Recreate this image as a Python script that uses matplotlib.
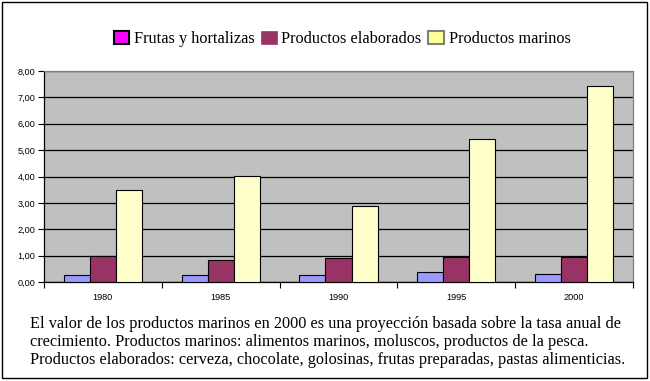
import matplotlib
matplotlib.use("Agg")
import matplotlib.pyplot as plt
from matplotlib.patches import Patch, Rectangle
import numpy as np

years = ["1980", "1985", "1990", "1995", "2000"]
frutas = [0.25, 0.25, 0.25, 0.38, 0.31]
elaborados = [0.98, 0.83, 0.90, 0.95, 0.95]
marinos = [3.48, 4.03, 2.90, 5.41, 7.45]
series_names = ["Frutas y hortalizas", "Productos elaborados", "Productos marinos"]
ytick_vals = [0, 1, 2, 3, 4, 5, 6, 7, 8]
ytick_labels = ["0,00", "1,00", "2,00", "3,00", "4,00", "5,00", "6,00", "7,00", "8,00"]
note_lines = [
    "El valor de los productos marinos en 2000 es una proyección basada sobre la tasa anual de",
    "crecimiento. Productos marinos: alimentos marinos, moluscos, productos de la pesca.",
    "Productos elaborados: cerveza, chocolate, golosinas, frutas preparadas, pastas alimenticias.",
]

W, H = 650, 381
fig = plt.figure(figsize=(6.5, 3.81), dpi=100)
fig.patch.set_facecolor("white")

ax = fig.add_axes([44 / W, 1 - 282 / H, 589 / W, 211 / H])
ax.set_facecolor("#C0C0C0")

x = np.arange(len(years))
bw = 0.221
colors = ["#9999FF", "#993366", "#FFFFCC"]
for i, vals in enumerate([frutas, elaborados, marinos]):
    ax.bar(x + (i - 1) * bw, vals, width=bw, color=colors[i],
           edgecolor="black", linewidth=0.8, zorder=3)

ax.set_xlim(-0.5, len(years) - 0.5)
ax.set_ylim(0, 8)
ax.set_yticks(ytick_vals)
ax.set_yticklabels(ytick_labels, fontfamily="Liberation Sans", fontsize=6.6)
ax.yaxis.grid(True, color="black", linewidth=0.9, zorder=1)
ax.set_axisbelow(True)

ax.set_xticks(x)
ax.set_xticklabels(years, fontfamily="Liberation Sans", fontsize=6.6)
ax.tick_params(axis="x", which="major", length=0, pad=8)
ax.set_xticks(np.arange(-0.5, len(years), 1.0), minor=True)
ax.tick_params(axis="x", which="minor", length=4, width=0.8, direction="out")
ax.tick_params(axis="y", length=4, width=0.8, direction="out", pad=2)

for s in ["left", "bottom"]:
    ax.spines[s].set_color("black")
    ax.spines[s].set_linewidth(0.9)
for s in ["top", "right"]:
    ax.spines[s].set_color("#808080")
    ax.spines[s].set_linewidth(0.9)

handles = [
    Patch(facecolor="#FF00FF", edgecolor="black", linewidth=1.5),
    Patch(facecolor="#993366", edgecolor="#993366", linewidth=0.5),
    Patch(facecolor="#FFFF99", edgecolor="#808080", linewidth=1.5),
]
fig.legend(handles, series_names, loc="center", bbox_to_anchor=(342 / W, 1 - 39 / H),
           ncol=3, frameon=False, handlelength=0.95, handleheight=0.9,
           handletextpad=0.3, columnspacing=0.4,
           prop={"family": "Liberation Serif", "size": 11.7})

for k, line in enumerate(note_lines):
    fig.text(30 / W, 1 - (328 + 18 * k) / H, line, fontfamily="Liberation Serif",
             fontsize=11.7, va="baseline", ha="left")

fig.add_artist(Rectangle((2 / W, 3 / H), 645 / W, 376 / H, transform=fig.transFigure,
                         fill=False, edgecolor="black", linewidth=1.0))

fig.savefig("out.png", dpi=100)
